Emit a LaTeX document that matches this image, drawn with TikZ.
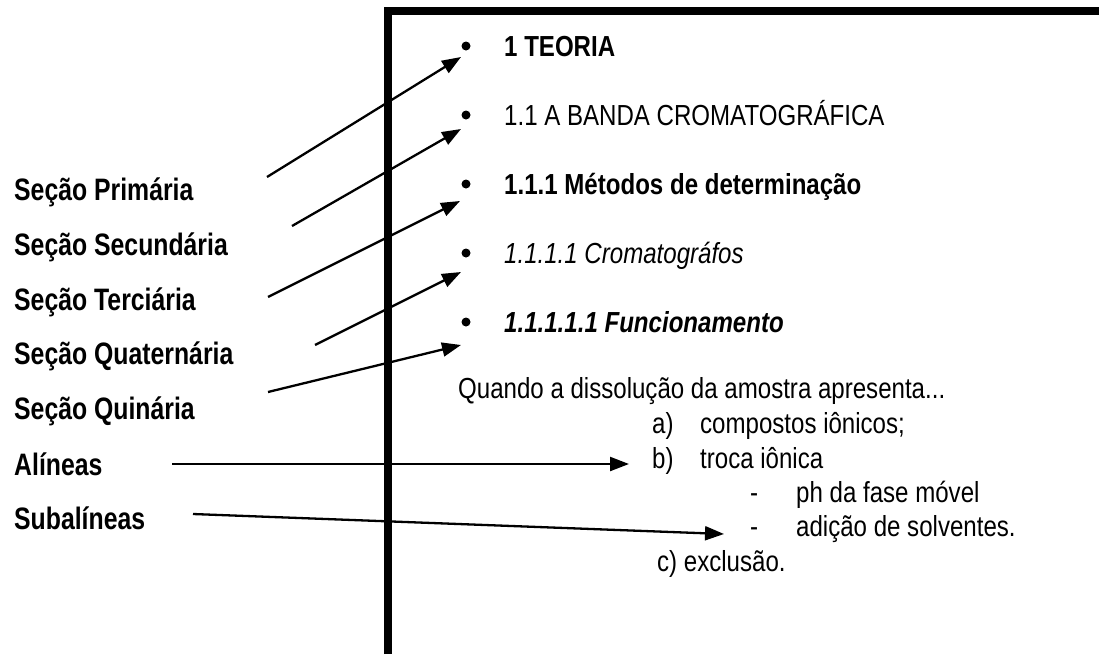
\documentclass[tikz,border=0pt]{standalone}
\usepackage{fontspec}
\setmainfont{Liberation Sans}[FakeStretch=0.83]
\newfontfamily\lblfont{Liberation Sans}[FakeStretch=0.80]
\usetikzlibrary{arrows.meta}
\begin{document}
\begin{tikzpicture}[x=1pt,y=-1pt,
  lbl/.style={anchor=base west, inner sep=0pt, font=\lblfont\fontsize{31}{31}\selectfont\bfseries},
  txt/.style={anchor=base west, inner sep=0pt, font=\fontsize{29}{29}\selectfont},
  bul/.style={circle, fill=black, inner sep=0pt, minimum size=9pt},
  arr/.style={line width=2.3pt, -{Triangle[length=19pt,width=14pt]}},
  frame/.style={line width=8pt}]
\useasboundingbox (0,0) rectangle (1099,654);
\fill[white] (0,0) rectangle (1099,654);
% frame
\draw[frame] (388,654) -- (388,11) -- (1099,11);
% left labels
\node[lbl] (l1) at (14,200) {Seção Primária};
\node[lbl] (l2) at (14,255) {Seção Secundária};
\node[lbl] (l3) at (14,310) {Seção Terciária};
\node[lbl] (l4) at (14,364) {Seção Quaternária};
\node[lbl] (l5) at (14,419) {Seção Quinária};
\node[lbl] (l6) at (14,475) {Alíneas};
\node[lbl] (l7) at (14,529) {Subalíneas};
% bullets
\node[bul] (b1) at (466,46) {};
\node[bul] (b2) at (466,115) {};
\node[bul] (b3) at (466,184) {};
\node[bul] (b4) at (466,253) {};
\node[bul] (b5) at (466,322) {};
% headings
\node[txt] (h1) at (504,56.5) {\bfseries 1 TEORIA};
\node[txt] (h2) at (504,125.5) {1.1 A BANDA CROMATOGRÁFICA};
\node[txt] (h3) at (504,194.5) {\bfseries 1.1.1 Métodos de determinação};
\node[txt] (h4) at (504,263.5) {\itshape 1.1.1.1 Cromatográfos};
\node[txt] (h5) at (504,332.5) {\bfseries\itshape 1.1.1.1.1 Funcionamento};
% body
\node[txt] (q) at (458,398) {Quando a dissolução da amostra apresenta...};
\node[txt] (ia) at (652,433) {a)};
\node[txt] (ta) at (700,433) {compostos iônicos;};
\node[txt] (ib) at (652,468) {b)};
\node[txt] (tb) at (700,468) {troca iônica};
\node[txt] (d1) at (750,502) {-};
\node[txt] (s1) at (796,502) {ph da fase móvel};
\node[txt] (d2) at (750,536) {-};
\node[txt] (s2) at (796,536) {adição de solventes.};
\node[txt] (tc) at (657,571) {c) exclusão.};
% arrow coordinates
\coordinate (a1s) at (267,177); \coordinate (a1e) at (461,57);
\coordinate (a2s) at (292,226); \coordinate (a2e) at (461,129);
\coordinate (a3s) at (268,297); \coordinate (a3e) at (460,201);
\coordinate (a4s) at (315,345); \coordinate (a4e) at (461,272);
\coordinate (a5s) at (268,392); \coordinate (a5e) at (461,345);
\coordinate (a6s) at (172,464); \coordinate (a6e) at (629,464);
\coordinate (a7s) at (193,514); \coordinate (a7e) at (724,534);
\draw[arr] (a1s) -- (a1e);
\draw[arr] (a2s) -- (a2e);
\draw[arr] (a3s) -- (a3e);
\draw[arr] (a4s) -- (a4e);
\draw[arr] (a5s) -- (a5e);
\draw[arr] (a6s) -- (a6e);
\draw[arr] (a7s) -- (a7e);
\end{tikzpicture}
\end{document}
